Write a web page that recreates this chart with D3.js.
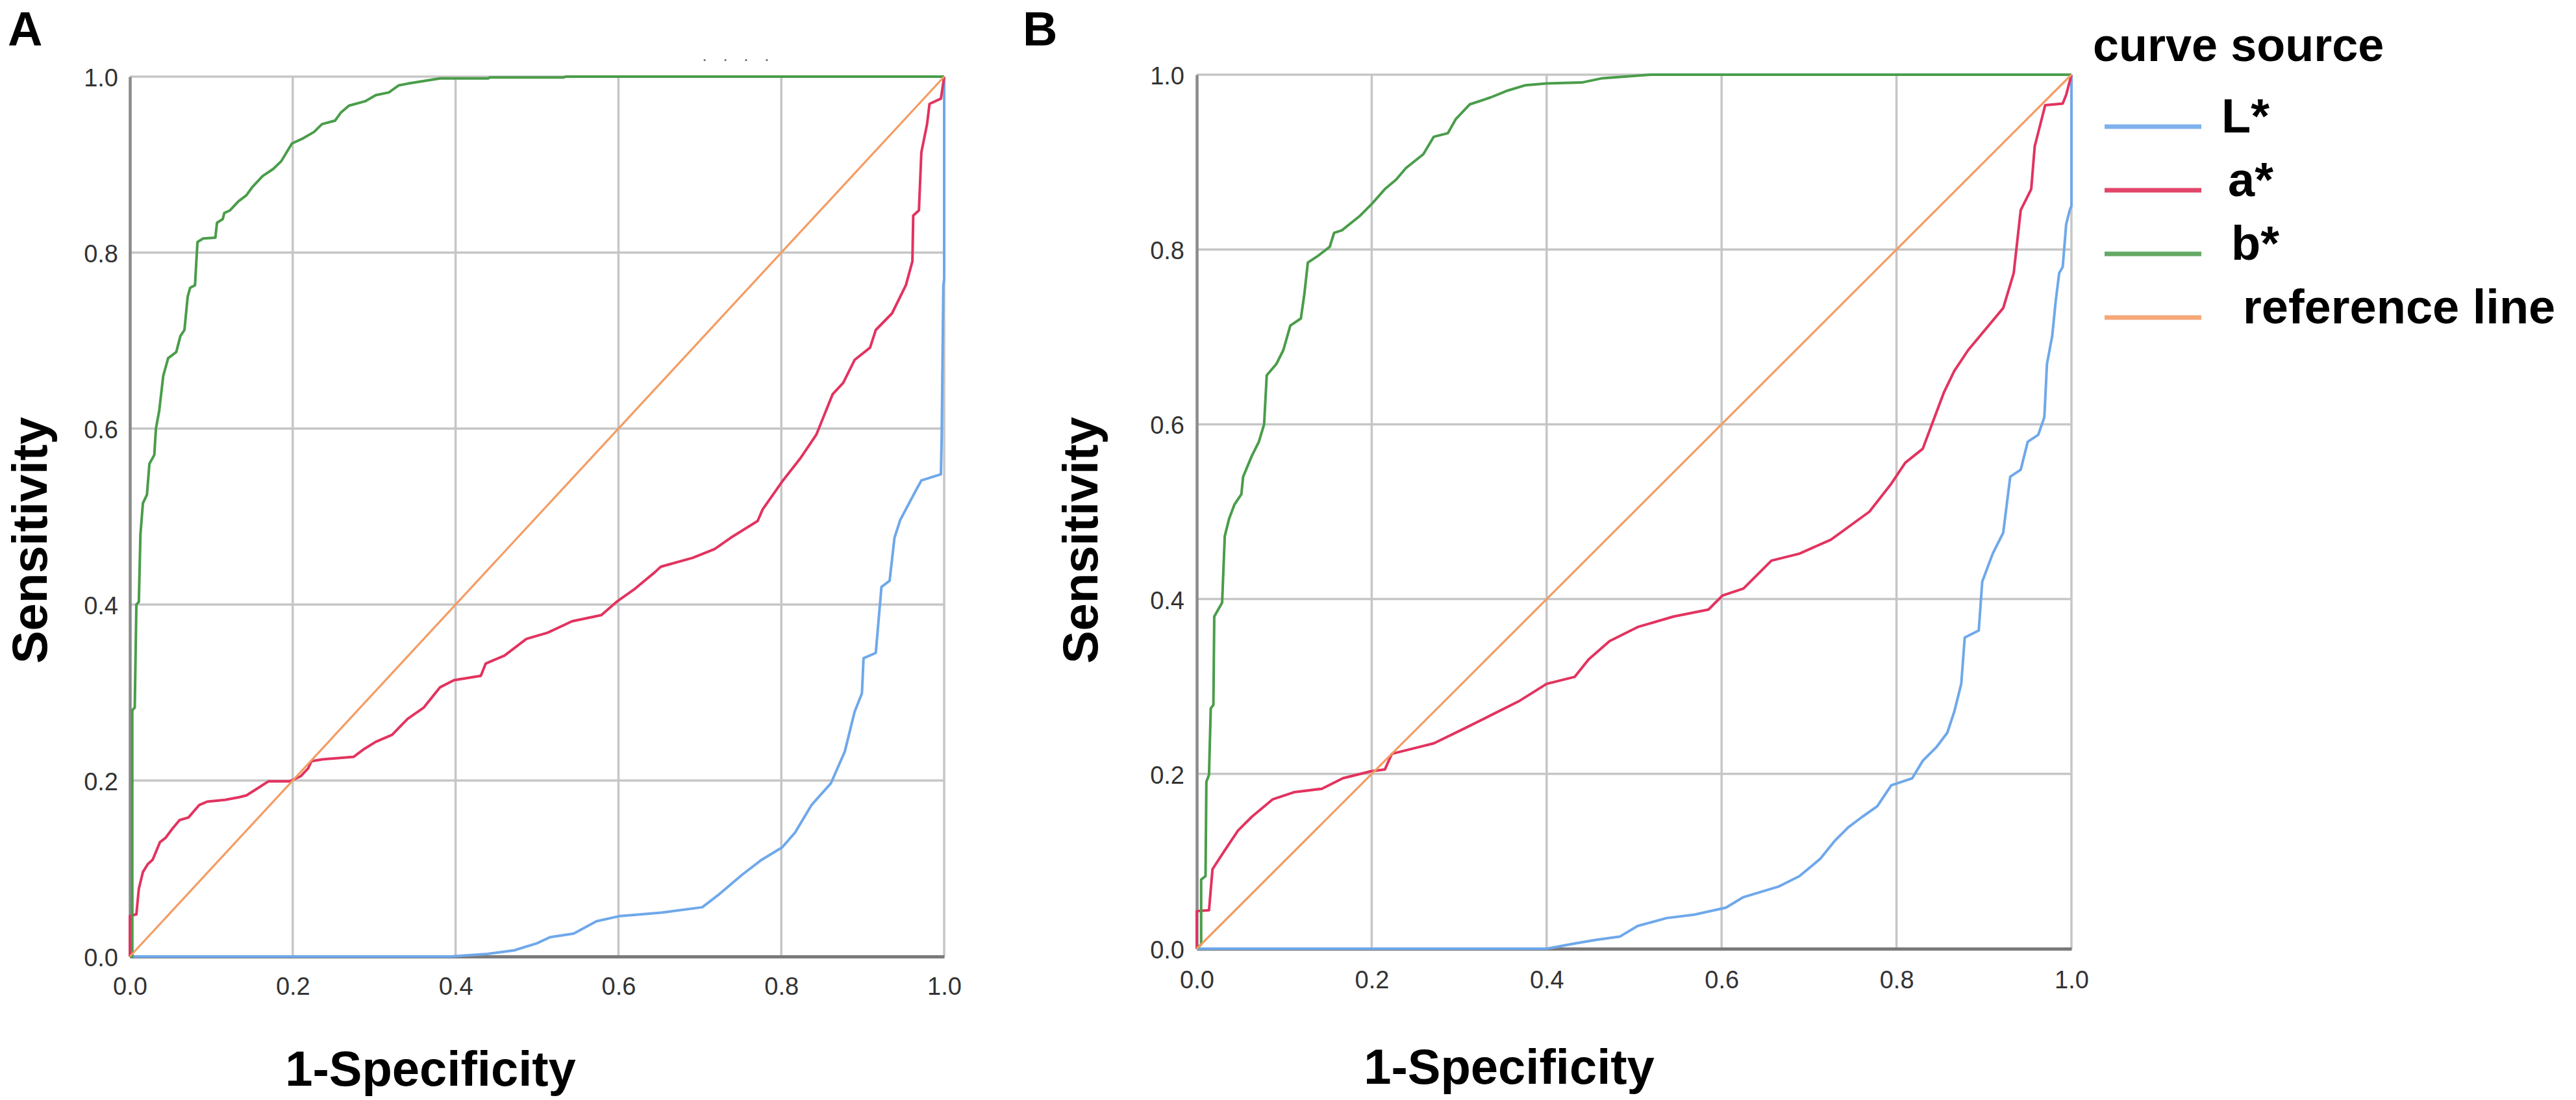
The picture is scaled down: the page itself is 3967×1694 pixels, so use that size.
<!DOCTYPE html>
<html>
<head>
<meta charset="utf-8">
<script src="https://cdn.jsdelivr.net/npm/d3@7"></script>
<style>
html,body{margin:0;padding:0;background:#fff;}
svg{display:block;}
text{font-family:"Liberation Sans",Arial,Helvetica,sans-serif;}
</style>
</head>
<body>
<svg id="chart" width="3967" height="1694"></svg>
<script>
// ---------- data ----------
const tickValues = [0, 0.2, 0.4, 0.6, 0.8, 1.0];
const seriesNames = ["L*", "a*", "b*", "reference line"];
const referenceLine = [[0, 0], [1, 1]];

// Panel A  (FPR, TPR)
const panelA_L = [[0,0],[0.394,0],[0.439,0.003],[0.472,0.007],[0.500,0.015],[0.516,0.022],[0.545,0.026],[0.573,0.040],[0.602,0.046],[0.654,0.050],[0.703,0.056],[0.724,0.071],[0.752,0.093],[0.776,0.110],[0.801,0.124],[0.817,0.141],[0.837,0.172],[0.861,0.197],[0.878,0.233],[0.890,0.278],[0.899,0.299],[0.901,0.339],[0.916,0.345],[0.923,0.420],[0.933,0.427],[0.939,0.476],[0.946,0.496],[0.966,0.531],[0.972,0.541],[0.996,0.548],[0.997,0.593],[0.999,0.763],[1.0,0.770],[1,1]];
const panelA_a = [[0,0],[0,0.046],[0.008,0.048],[0.011,0.077],[0.016,0.096],[0.022,0.105],[0.028,0.110],[0.037,0.130],[0.044,0.135],[0.052,0.145],[0.061,0.155],[0.072,0.158],[0.085,0.172],[0.095,0.176],[0.117,0.178],[0.134,0.181],[0.143,0.183],[0.155,0.190],[0.170,0.199],[0.196,0.199],[0.210,0.205],[0.219,0.214],[0.223,0.222],[0.236,0.224],[0.275,0.227],[0.288,0.236],[0.302,0.244],[0.322,0.252],[0.341,0.270],[0.361,0.283],[0.381,0.306],[0.398,0.314],[0.431,0.319],[0.437,0.333],[0.460,0.342],[0.487,0.361],[0.513,0.368],[0.543,0.381],[0.579,0.388],[0.599,0.404],[0.619,0.417],[0.645,0.437],[0.652,0.443],[0.691,0.453],[0.718,0.463],[0.738,0.476],[0.771,0.495],[0.777,0.508],[0.802,0.541],[0.824,0.567],[0.843,0.593],[0.863,0.639],[0.876,0.652],[0.890,0.678],[0.909,0.692],[0.916,0.712],[0.936,0.731],[0.953,0.763],[0.961,0.790],[0.962,0.842],[0.969,0.848],[0.972,0.914],[0.979,0.946],[0.982,0.969],[0.996,0.975],[1,1]];
const panelA_b = [[0,0],[0.003,0],[0.003,0.28],[0.006,0.283],[0.008,0.40],[0.011,0.403],[0.013,0.48],[0.016,0.515],[0.021,0.525],[0.024,0.56],[0.030,0.57],[0.032,0.60],[0.036,0.62],[0.041,0.66],[0.047,0.68],[0.057,0.687],[0.062,0.705],[0.067,0.712],[0.071,0.750],[0.074,0.760],[0.080,0.763],[0.083,0.812],[0.090,0.816],[0.105,0.817],[0.107,0.834],[0.114,0.838],[0.116,0.845],[0.123,0.848],[0.133,0.858],[0.143,0.865],[0.150,0.874],[0.163,0.887],[0.176,0.895],[0.186,0.904],[0.199,0.924],[0.213,0.930],[0.226,0.937],[0.236,0.946],[0.252,0.950],[0.259,0.959],[0.269,0.967],[0.289,0.972],[0.302,0.979],[0.318,0.982],[0.330,0.990],[0.341,0.992],[0.361,0.995],[0.381,0.998],[0.440,0.998],[0.442,0.999],[0.533,0.999],[0.535,1],[1,1]];

// Panel B  (FPR, TPR)
const panelB_L = [[0,0],[0.400,0],[0.432,0.006],[0.456,0.010],[0.484,0.014],[0.504,0.026],[0.537,0.035],[0.569,0.039],[0.605,0.047],[0.625,0.059],[0.665,0.071],[0.689,0.083],[0.713,0.103],[0.729,0.123],[0.745,0.139],[0.761,0.151],[0.778,0.163],[0.794,0.187],[0.818,0.195],[0.830,0.215],[0.846,0.231],[0.858,0.247],[0.866,0.271],[0.874,0.303],[0.878,0.356],[0.894,0.364],[0.898,0.420],[0.910,0.452],[0.922,0.476],[0.930,0.540],[0.942,0.548],[0.950,0.580],[0.962,0.588],[0.969,0.608],[0.972,0.669],[0.978,0.701],[0.982,0.741],[0.986,0.773],[0.990,0.780],[0.994,0.829],[0.998,0.845],[1,0.850],[1,1]];
const panelB_a = [[0,0],[0,0.043],[0.014,0.044],[0.018,0.091],[0.031,0.111],[0.047,0.135],[0.063,0.151],[0.087,0.171],[0.111,0.179],[0.143,0.183],[0.167,0.195],[0.199,0.203],[0.215,0.205],[0.223,0.223],[0.255,0.231],[0.271,0.235],[0.304,0.251],[0.336,0.267],[0.368,0.283],[0.400,0.303],[0.432,0.311],[0.448,0.331],[0.472,0.352],[0.504,0.368],[0.545,0.380],[0.585,0.388],[0.601,0.404],[0.625,0.412],[0.657,0.444],[0.689,0.452],[0.725,0.468],[0.769,0.500],[0.794,0.532],[0.810,0.556],[0.830,0.572],[0.842,0.604],[0.854,0.636],[0.866,0.661],[0.882,0.685],[0.902,0.709],[0.922,0.733],[0.934,0.773],[0.942,0.845],[0.954,0.869],[0.958,0.918],[0.970,0.965],[0.990,0.967],[0.994,0.977],[1,1]];
const panelB_b = [[0,0],[0.005,0.005],[0.005,0.079],[0.010,0.083],[0.011,0.191],[0.014,0.199],[0.016,0.275],[0.019,0.279],[0.020,0.380],[0.029,0.396],[0.032,0.472],[0.037,0.492],[0.043,0.508],[0.051,0.520],[0.053,0.540],[0.063,0.564],[0.071,0.580],[0.077,0.600],[0.080,0.656],[0.091,0.669],[0.099,0.685],[0.107,0.713],[0.119,0.721],[0.123,0.749],[0.127,0.785],[0.139,0.793],[0.152,0.803],[0.157,0.819],[0.166,0.822],[0.186,0.838],[0.200,0.852],[0.215,0.869],[0.228,0.880],[0.239,0.893],[0.259,0.909],[0.271,0.929],[0.287,0.933],[0.296,0.949],[0.312,0.966],[0.336,0.974],[0.356,0.982],[0.376,0.988],[0.400,0.990],[0.440,0.991],[0.464,0.996],[0.520,1],[1,1]];

// ---------- styles ----------
const colors = {"L*": "#6fa8ea", "a*": "#e2335f", "b*": "#4a9d4a", "reference line": "#f39c63"};
const legendColors = {"L*": "#7fb2ec", "a*": "#e3466b", "b*": "#64a964", "reference line": "#f6a878"};

const svg = d3.select("#chart");

const panels = [
  {label: "A", labelX: 12, labelY: 70, x0: 200, x1: 1454, y0: 1473, y1: 118,
   series: {"L*": panelA_L, "a*": panelA_a, "b*": panelA_b},
   xTickBase: 1532, yTickRight: 182, xTitleX: 663, xTitleY: 1672, yTitleX: 72},
  {label: "B", labelX: 1575, labelY: 70, x0: 1843, x1: 3190, y0: 1461, y1: 115,
   series: {"L*": panelB_L, "a*": panelB_a, "b*": panelB_b},
   xTickBase: 1522, yTickRight: 1824, xTitleX: 2324, xTitleY: 1669, yTitleX: 1690}
];

panels.forEach(p => {
  const x = d3.scaleLinear().domain([0, 1]).range([p.x0, p.x1]);
  const y = d3.scaleLinear().domain([0, 1]).range([p.y0, p.y1]);
  const g = svg.append("g");

  // grid
  g.append("g").selectAll("line").data(tickValues.slice(1)).join("line")
    .attr("x1", d => x(d)).attr("x2", d => x(d)).attr("y1", y(0)).attr("y2", y(1))
    .attr("stroke", "#c6c6c6").attr("stroke-width", 3.5);
  g.append("g").selectAll("line").data(tickValues.slice(1)).join("line")
    .attr("x1", x(0)).attr("x2", x(1)).attr("y1", d => y(d)).attr("y2", d => y(d))
    .attr("stroke", "#c6c6c6").attr("stroke-width", 3.5);

  // axes (D3 axes, styled)
  const xAxis = d3.axisBottom(x).tickValues(tickValues).tickFormat(d3.format(".1f")).tickSize(0).tickPadding(0);
  const yAxis = d3.axisLeft(y).tickValues(tickValues).tickFormat(d3.format(".1f")).tickSize(0).tickPadding(0);
  const gx = g.append("g").attr("transform", `translate(0,${y(0)})`).call(xAxis);
  const gy = g.append("g").attr("transform", `translate(${x(0)},0)`).call(yAxis);
  gx.select(".domain").attr("stroke", "#7a7a7a").attr("stroke-width", 5);
  gy.select(".domain").attr("stroke", "#8a8a8a").attr("stroke-width", 4.5);
  gx.selectAll("text").attr("font-size", 38).attr("fill", "#333")
    .attr("y", p.xTickBase - y(0)).attr("dy", 0).attr("text-anchor", "middle");
  gy.selectAll("text").attr("font-size", 38).attr("fill", "#333")
    .attr("x", p.yTickRight - x(0)).attr("dy", "0.38em").attr("text-anchor", "end");
  gx.attr("font-family", null); gy.attr("font-family", null);

  // curves
  const line = d3.line().x(d => x(d[0])).y(d => y(d[1]));
  ["L*", "a*", "b*"].forEach(name => {
    g.append("path").datum(p.series[name]).attr("d", line)
      .attr("fill", "none").attr("stroke", colors[name]).attr("stroke-width", 4)
      .attr("stroke-linejoin", "round");
  });
  g.append("path").datum(referenceLine).attr("d", line)
    .attr("fill", "none").attr("stroke", colors["reference line"]).attr("stroke-width", 3.2);

  // titles
  svg.append("text").attr("x", p.labelX).attr("y", p.labelY)
    .attr("font-size", 74).attr("font-weight", "bold").attr("fill", "#000").text(p.label);
  svg.append("text").attr("x", p.xTitleX).attr("y", p.xTitleY).attr("text-anchor", "middle")
    .attr("font-size", 76).attr("font-weight", "bold").attr("fill", "#000").text("1-Specificity");
  svg.append("text").attr("transform", `translate(${p.yTitleX},832) rotate(-90)`)
    .attr("text-anchor", "middle")
    .attr("font-size", 76).attr("font-weight", "bold").attr("fill", "#000").text("Sensitivity");
});

// small artefact dots above panel A
svg.append("text").attr("x", 1137).attr("y", 100).attr("text-anchor", "middle")
  .attr("font-size", 26).attr("fill", "#666").attr("letter-spacing", 8).text("· · · ·");

// legend
const legend = svg.append("g");
legend.append("text").attr("x", 3223).attr("y", 94)
  .attr("font-size", 72).attr("font-weight", "bold").attr("fill", "#000").text("curve source");
const legendY = d3.scalePoint().domain(seriesNames).range([195, 489]);
const labelX = {"L*": 3421, "a*": 3431, "b*": 3436, "reference line": 3454};
seriesNames.forEach(name => {
  legend.append("line").attr("x1", 3241).attr("x2", 3390)
    .attr("y1", legendY(name)).attr("y2", legendY(name))
    .attr("stroke", legendColors[name]).attr("stroke-width", 7);
  legend.append("text").attr("x", labelX[name]).attr("y", legendY(name) + 9)
    .attr("font-size", 74).attr("font-weight", "bold").attr("fill", "#000").text(name);
});
</script>
</body>
</html>
